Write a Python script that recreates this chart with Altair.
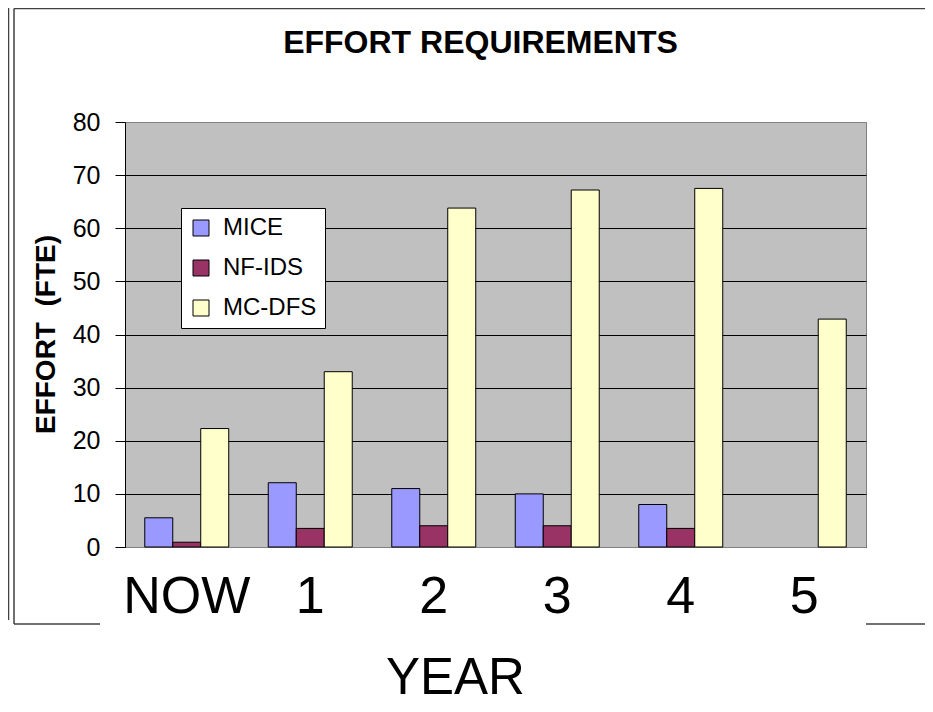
import altair as alt
import pandas as pd

years = ["NOW", "1", "2", "3", "4", "5"]
series = ["MICE", "NF-IDS", "MC-DFS"]
colors = ["#9999FF", "#993366", "#FFFFCC"]
mice = [5.5, 12.1, 11.0, 10.0, 8.0, None]
nf_ids = [0.9, 3.5, 4.0, 4.0, 3.5, None]
mc_dfs = [22.3, 33.0, 63.8, 67.2, 67.5, 42.9]
y_ticks = [0, 10, 20, 30, 40, 50, 60, 70, 80]
chart_title = "EFFORT REQUIREMENTS"

rows = []
for name, vals in zip(series, [mice, nf_ids, mc_dfs]):
    for yr, v in zip(years, vals):
        if v is not None:
            rows.append({"year": yr, "series": name, "value": v})
df = pd.DataFrame(rows)

FONT = "Liberation Sans"

bars = alt.Chart(df).mark_bar(stroke="black", strokeWidth=1).encode(
    x=alt.X(
        "year:N",
        sort=years,
        scale=alt.Scale(paddingInner=0.32, paddingOuter=0.16),
        axis=alt.Axis(
            title="YEAR",
            titleFont=FONT,
            titleFontSize=51,
            titleFontWeight="normal",
            titleColor="black",
            titleX=330,
            titleY=146,
            titleAlign="center",
            titleBaseline="alphabetic",
            labelFont=FONT,
            labelFontSize=52,
            labelColor="black",
            labelAngle=0,
            labelBaseline="alphabetic",
            labelPadding=65,
            ticks=False,
            tickSize=0,
            domainColor="#808080",
        ),
    ),
    xOffset=alt.XOffset("series:N", sort=series,
                        scale=alt.Scale(paddingInner=0, paddingOuter=0)),
    y=alt.Y(
        "value:Q",
        scale=alt.Scale(domain=[0, 80], nice=False),
        axis=alt.Axis(
            values=y_ticks,
            title="EFFORT \u00a0(FTE)",
            titleFont=FONT,
            titleFontSize=28,
            titleFontWeight="bold",
            titleColor="black",
            titleX=-71,
            titleY=212,
            titleAlign="center",
            titleBaseline="alphabetic",
            titleAngle=270,
            labelFont=FONT,
            labelFontSize=25,
            labelColor="black",
            labelPadding=15,
            tickSize=10,
            tickColor="black",
            domainColor="black",
            grid=True,
            gridColor=alt.condition("datum.value == 80", alt.value("#808080"), alt.value("black")),
            gridOpacity=1,
        ),
    ),
    color=alt.Color(
        "series:N",
        sort=series,
        scale=alt.Scale(domain=series, range=colors),
        legend=alt.Legend(
            title=None,
            orient="none",
            legendX=56,
            legendY=86,
            fillColor="white",
            strokeColor="black",
            padding=8,
            symbolType="square",
            symbolSize=256,
            symbolStrokeColor="black",
            symbolStrokeWidth=1,
            symbolOpacity=1,
            labelFont=FONT,
            labelFontSize=24,
            labelColor="black",
            labelOffset=10,
            rowPadding=16,
        ),
    ),
)

one = pd.DataFrame({"k": [0]})
LINE = "#404040"

def rule(x, x2, y, y2):
    return alt.Chart(one).mark_rule(color=LINE, strokeWidth=1.5).encode(
        x=alt.value(x), x2=alt.value(x2), y=alt.value(y), y2=alt.value(y2)
    )

frame = [
    rule(-111, -111, -113.5, 502),
    rule(-116.5, -116.5, -114, 498),
    rule(-111, 800, -113.5, -113.5),
    rule(-111, -25, 502, 502),
    rule(741, 800, 502, 502),
]

title = alt.Chart(one).mark_text(
    text=chart_title,
    font=FONT,
    fontSize=32,
    fontWeight="bold",
    color="black",
    align="center",
    baseline="alphabetic",
).encode(x=alt.value(355.5), y=alt.value(-69))

chart = alt.layer(bars, *frame, title).properties(
    width=741,
    height=425,
    autosize=alt.AutoSizeParams(type="none"),
    padding={"left": 117, "top": 114, "right": 59, "bottom": 157},
    background="white",
).configure_view(fill="#C0C0C0", stroke="#808080")

chart.save("out.html", embed_options={"renderer": "svg", "actions": False})
